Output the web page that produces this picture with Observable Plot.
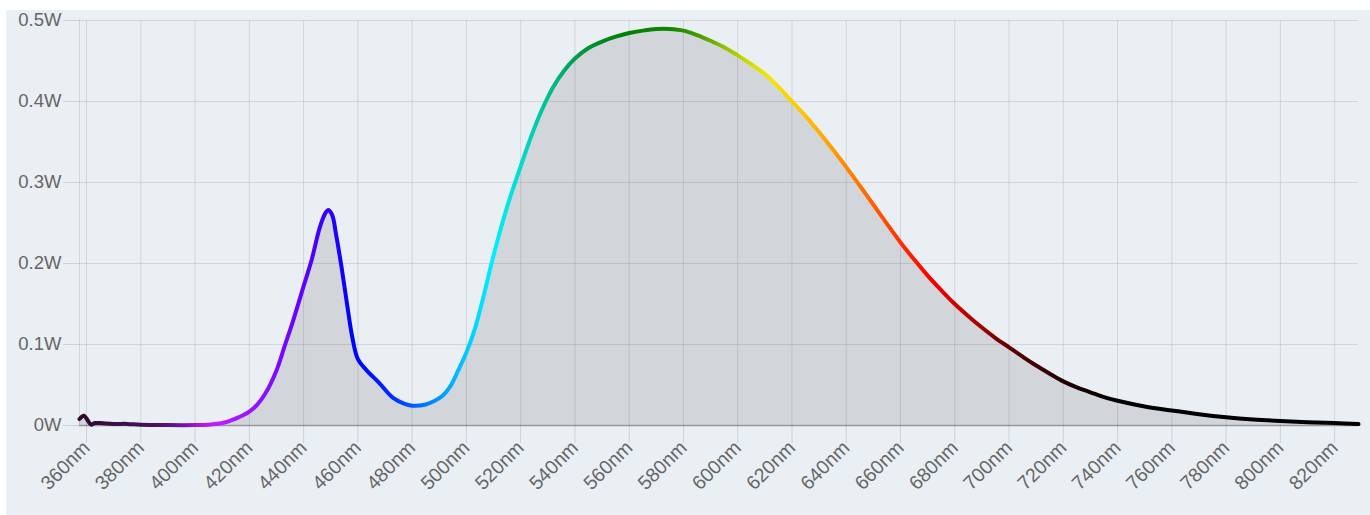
<!DOCTYPE html>
<html>
<head>
<meta charset="utf-8">
<script src="https://cdn.jsdelivr.net/npm/d3@7"></script>
<script src="https://cdn.jsdelivr.net/npm/@observablehq/plot@0.6"></script>
<style>
  html, body { margin: 0; padding: 0; background: #ffffff; }
  #wrap { padding: 10px 0 0 6px; width: 1364px; }
  #wrap svg { display: block; }
</style>
</head>
<body>
<div id="wrap"></div>
<script>
// Wavelength (nm) and spectral power (W)
const wavelengths = [357.4, 359, 360.5, 361.6, 363, 365, 370, 375, 380, 390, 400, 405, 410, 413, 416, 420,
  423, 426, 430, 433, 436, 440, 443, 446, 448, 449, 450.5, 452, 454, 456, 458, 460, 463, 468, 473, 477,
  480, 485, 488, 491, 494, 497, 500, 503, 506, 510, 515, 520, 524, 528, 532, 536, 540, 545, 550, 555,
  560, 565, 570, 575, 580, 585, 590, 595, 600, 605, 610, 615, 620, 625, 630, 635, 640, 645, 650, 655,
  660, 665, 670, 675, 680, 685, 690, 695, 700, 705, 710, 715, 720, 725, 730, 735, 740, 750, 760, 770,
  780, 790, 800, 810, 820, 828.8];
const power = [0.008, 0.012, 0.006, 0.001, 0.003, 0.003, 0.002, 0.002, 0.001, 0.0005, 0.0005, 0.001, 0.003, 0.006, 0.010, 0.017,
  0.026, 0.040, 0.068, 0.098, 0.128, 0.172, 0.205, 0.245, 0.262, 0.266, 0.260, 0.235, 0.195, 0.150, 0.108, 0.082, 0.069, 0.052, 0.034, 0.027,
  0.0245, 0.026, 0.030, 0.036, 0.048, 0.068, 0.090, 0.118, 0.155, 0.210, 0.270, 0.320, 0.358, 0.391, 0.418, 0.438, 0.453, 0.466, 0.474, 0.480,
  0.4845, 0.4875, 0.4895, 0.4895, 0.4875, 0.482, 0.475, 0.467, 0.457, 0.446, 0.434, 0.418, 0.400, 0.382, 0.362, 0.341, 0.319, 0.296, 0.2725, 0.249,
  0.226, 0.205, 0.185, 0.167, 0.150, 0.135, 0.121, 0.108, 0.0965, 0.085, 0.074, 0.064, 0.0545, 0.047, 0.041, 0.035, 0.0305, 0.0235, 0.0185, 0.014,
  0.0103, 0.0075, 0.0055, 0.004, 0.003, 0.0018];

// Spectrum colour stops for the line
const colorNm = [357.4, 370, 385, 395, 402, 408, 415, 425, 440, 450, 458, 470, 480, 490, 500, 510, 520, 530, 540, 550,
  560, 575, 585, 595, 605, 612, 620, 630, 640, 650, 660, 670, 680, 690, 700, 710, 720, 740, 828.8];
const colorHex = ["#2d0a2d", "#3a0f45", "#4a1060", "#7010a0", "#b018e0", "#c020f8", "#a818ff", "#8c10ff", "#6000ff", "#2800ff",
  "#0000ff", "#0020ff", "#0058ff", "#0098ff", "#00ccff", "#00f0ff", "#00dcd0", "#00c090", "#00a050", "#008a20",
  "#007f00", "#108800", "#409a00", "#90c000", "#d8e000", "#f0e800", "#ffd000", "#ffb000", "#ff8800", "#ff6000",
  "#ff3000", "#ff0000", "#d00000", "#a00000", "#600000", "#400000", "#200000", "#000000", "#000000"];

// Axis ticks
const xTicks = [360, 380, 400, 420, 440, 460, 480, 500, 520, 540, 560, 580, 600, 620, 640, 660, 680, 700, 720, 740, 760, 780, 800, 820];
const yTicks = [0, 0.1, 0.2, 0.3, 0.4, 0.5];
const xDomain = [357.4, 828.8];

const data = wavelengths.map((w, i) => ({w, p: power[i]}));

function gradientDefs(index, scales) {
  const ns = "http://www.w3.org/2000/svg";
  const defs = document.createElementNS(ns, "defs");
  const lg = document.createElementNS(ns, "linearGradient");
  lg.setAttribute("id", "spectrum");
  lg.setAttribute("gradientUnits", "userSpaceOnUse");
  const a = colorNm[0], b = colorNm[colorNm.length - 1];
  lg.setAttribute("x1", scales.x(a));
  lg.setAttribute("x2", scales.x(b));
  lg.setAttribute("y1", 0);
  lg.setAttribute("y2", 0);
  colorNm.forEach((w, i) => {
    const s = document.createElementNS(ns, "stop");
    s.setAttribute("offset", (w - a) / (b - a));
    s.setAttribute("stop-color", colorHex[i]);
    lg.appendChild(s);
  });
  defs.appendChild(lg);
  return defs;
}

const chart = Plot.plot({
  width: 1364,
  height: 505,
  marginLeft: 73,
  marginRight: 12,
  marginTop: 10,
  marginBottom: 90,
  x: {domain: xDomain},
  y: {domain: [0, 0.5]},
  style: {background: "#eaeff4", fontFamily: "'Liberation Sans', Arial, sans-serif", fontSize: "18.5px", color: "#666"},
  marks: [
    Plot.gridX(xTicks, {stroke: "#000", strokeOpacity: 0.1, strokeWidth: 1}),
    Plot.gridY(yTicks, {stroke: "#000", strokeOpacity: 0.1, strokeWidth: 1}),
    Plot.ruleX([xDomain[0]], {stroke: "#000", strokeOpacity: 0.1}),
    Plot.areaY(data, {x: "w", y: "p", fill: "#000", fillOpacity: 0.1, curve: "catmull-rom"}),
    Plot.ruleY([0], {stroke: "#999", strokeWidth: 1.5}),
    Plot.axisY(yTicks, {label: null, tickSize: 16, tickPadding: 2, tickFormat: d => d + "W", stroke: "#000", strokeOpacity: 0.12, fill: "#666", fontSize: 18.5}),
    Plot.axisX(xTicks, {label: null, tickSize: 18, tickPadding: 1, tickRotate: -45, tickFormat: d => d + "nm", stroke: "#000", strokeOpacity: 0.12, fill: "#666", fontSize: 19.5}),
    gradientDefs,
    Plot.line(data, {x: "w", y: "p", stroke: "url(#spectrum)", strokeWidth: 4, curve: "catmull-rom"})
  ]
});
document.getElementById("wrap").appendChild(chart);
</script>
</body>
</html>
